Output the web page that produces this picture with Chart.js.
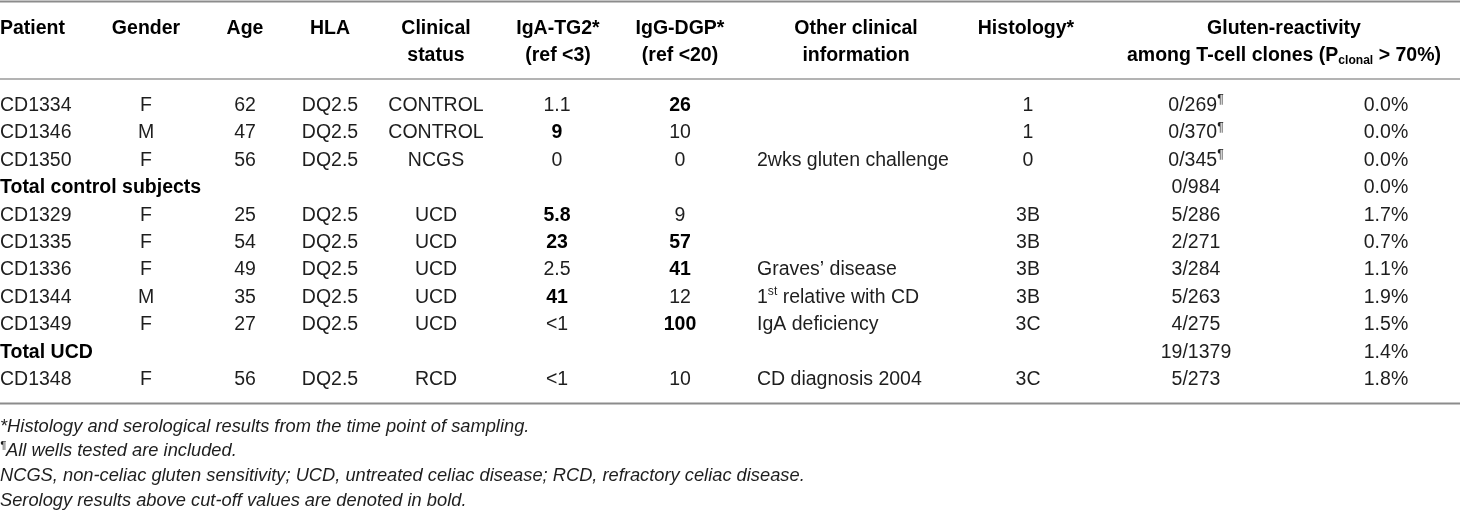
<!DOCTYPE html>
<html>
<head>
<meta charset="utf-8">
<script src="https://cdn.jsdelivr.net/npm/chart.js@4"></script>
<style>
  html, body { margin: 0; padding: 0; background: #fff; }
  #wrap { width: 1460px; height: 511px; position: relative; }
</style>
</head>
<body>
<div id="wrap"><canvas id="tbl"></canvas></div>
<script>
// table content
const headerTop = ['Patient', 'Gender', 'Age', 'HLA', 'Clinical', 'IgA-TG2*', 'IgG-DGP*', 'Other clinical', 'Histology*', 'Gluten-reactivity'];
const headerBottom = ['', '', '', '', 'status', '(ref <3)', '(ref <20)', 'information', '', 'among T-cell clones (P_{clonal} > 70%)'];

const patient = ['CD1334', 'CD1346', 'CD1350', 'Total control subjects', 'CD1329', 'CD1335', 'CD1336', 'CD1344', 'CD1349', 'Total UCD', 'CD1348'];
const gender = ['F', 'M', 'F', '', 'F', 'F', 'F', 'M', 'F', '', 'F'];
const age = ['62', '47', '56', '', '25', '54', '49', '35', '27', '', '56'];
const hla = ['DQ2.5', 'DQ2.5', 'DQ2.5', '', 'DQ2.5', 'DQ2.5', 'DQ2.5', 'DQ2.5', 'DQ2.5', '', 'DQ2.5'];
const clinicalStatus = ['CONTROL', 'CONTROL', 'NCGS', '', 'UCD', 'UCD', 'UCD', 'UCD', 'UCD', '', 'RCD'];
const igaTG2 = ['1.1', '9', '0', '', '5.8', '23', '2.5', '41', '<1', '', '<1'];
const iggDGP = ['26', '10', '0', '', '9', '57', '41', '12', '100', '', '10'];
const otherInfo = ['', '', '2wks gluten challenge', '', '', '', 'Graves\u2019 disease', '1^{st} relative with CD', 'IgA deficiency', '', 'CD diagnosis 2004'];
const histology = ['1', '1', '0', '', '3B', '3B', '3B', '3B', '3C', '', '3C'];
const glutenClones = ['0/269^{\u00b6}', '0/370^{\u00b6}', '0/345^{\u00b6}', '0/984', '5/286', '2/271', '3/284', '5/263', '4/275', '19/1379', '5/273'];
const glutenPct = ['0.0%', '0.0%', '0.0%', '0.0%', '1.7%', '0.7%', '1.1%', '1.9%', '1.5%', '1.4%', '1.8%'];
const totalRows = [3, 9];
const igaCutoff = 3, iggCutoff = 20;

const footnotes = [
  '*Histology and serological results from the time point of sampling.',
  '^{\u00b6}All wells tested are included.',
  'NCGS, non-celiac gluten sensitivity; UCD, untreated celiac disease; RCD, refractory celiac disease.',
  'Serology results above cut-off values are denoted in bold.'
];

// layout
const W = 1460, H = 511;
const colX = [0, 146, 245, 330, 436, 557, 680, 757, 1028, 1196, 1386];
const colAlign = ['left', 'center', 'center', 'center', 'center', 'center', 'center', 'left', 'center', 'center', 'center'];
const headX = [0, 146, 245, 330, 436, 558, 680, 856, 1026, 1284];
const headAlign = ['left', 'center', 'center', 'center', 'center', 'center', 'center', 'center', 'center', 'center'];
const headY = [27, 53.5];
const firstRowY = 104, rowStep = 27.4;
const noteY = 425, noteStep = 24.8;
const FONT = '"Liberation Sans", Arial, Helvetica, sans-serif';

const isBold = (v, cut) => v !== '' && !v.startsWith('<') && parseFloat(v) > cut;

const cells = [];
headerTop.forEach((t, c) => cells.push({ x: headX[c], y: headY[0], text: t, bold: true, align: headAlign[c], size: 19.5 }));
headerBottom.forEach((t, c) => { if (t) cells.push({ x: headX[c], y: headY[1], text: t, bold: true, align: headAlign[c], size: 19.5 }); });

const columns = [patient, gender, age, hla, clinicalStatus, igaTG2, iggDGP, otherInfo, histology, glutenClones, glutenPct];
patient.forEach((_, r) => {
  const y = firstRowY + r * rowStep;
  columns.forEach((col, c) => {
    const t = col[r];
    if (!t) return;
    let bold = false;
    if (c === 0 && totalRows.includes(r)) bold = true;
    if (c === 5) bold = isBold(t, igaCutoff);
    if (c === 6) bold = isBold(t, iggCutoff);
    cells.push({ x: colX[c], y: y, text: t, bold: bold, align: colAlign[c], size: 19.5 });
  });
});
footnotes.forEach((t, i) => cells.push({ x: 0, y: noteY + i * noteStep, text: t, bold: false, italic: true, align: 'left', size: 18.3 }));

function parseRich(str) {
  const out = [];
  const re = /\^\{([^}]*)\}|_\{([^}]*)\}/g;
  let last = 0, m;
  while ((m = re.exec(str)) !== null) {
    if (m.index > last) out.push({ t: str.slice(last, m.index), k: 'n' });
    if (m[1] !== undefined) out.push({ t: m[1], k: 'sup' });
    else out.push({ t: m[2], k: 'sub' });
    last = re.lastIndex;
  }
  if (last < str.length) out.push({ t: str.slice(last), k: 'n' });
  return out;
}

const cellText = {
  id: 'cellText',
  afterDatasetsDraw(chart) {
    const ctx = chart.ctx;
    chart.data.datasets.forEach((ds, di) => {
      if (ds.label !== 'cells') return;
      const meta = chart.getDatasetMeta(di);
      meta.data.forEach((el, i) => {
        const d = ds.data[i];
        const segs = parseRich(d.text);
        const style = d.italic ? 'italic ' : '';
        const weight = d.bold ? 'bold ' : '';
        const fontFor = k => style + weight + (k === 'n' ? d.size : d.size * 0.62) + 'px ' + FONT;
        ctx.save();
        let total = 0;
        segs.forEach(s => { ctx.font = fontFor(s.k); s.w = ctx.measureText(s.t).width; total += s.w; });
        let x = el.x;
        if (d.align === 'center') x -= total / 2;
        else if (d.align === 'right') x -= total;
        const base = el.y + d.size * 0.36;
        ctx.fillStyle = d.bold ? '#000' : '#1e1e1e';
        ctx.textBaseline = 'alphabetic';
        ctx.textAlign = 'left';
        segs.forEach(s => {
          ctx.font = fontFor(s.k);
          let yy = base;
          if (s.k === 'sup') yy = base - d.size * 0.4;
          if (s.k === 'sub') yy = base + d.size * 0.18;
          ctx.fillText(s.t, x, yy);
          x += s.w;
        });
        ctx.restore();
      });
    });
  }
};

const rule = (y, w, color) => ({
  type: 'line',
  label: 'rule',
  data: [{ x: 0, y: y }, { x: W, y: y }],
  borderColor: color,
  borderWidth: w,
  pointRadius: 0
});

const ctx = document.getElementById('tbl').getContext('2d');
const table = new Chart(ctx, {
  type: 'scatter',
  data: {
    datasets: [
      rule(1.5, 2, '#8c8c8c'),
      rule(79, 1.5, '#9a9a9a'),
      rule(403.5, 2, '#8c8c8c'),
      { label: 'cells', data: cells, pointRadius: 0, pointHoverRadius: 0, showLine: false }
    ]
  },
  options: {
    responsive: true,
    maintainAspectRatio: false,
    animation: false,
    events: [],
    layout: { padding: 0 },
    plugins: { legend: { display: false }, tooltip: { enabled: false } },
    scales: {
      x: { type: 'linear', min: 0, max: W, display: false },
      y: { type: 'linear', min: 0, max: H, reverse: true, display: false }
    }
  },
  plugins: [cellText]
});
</script>
</body>
</html>
